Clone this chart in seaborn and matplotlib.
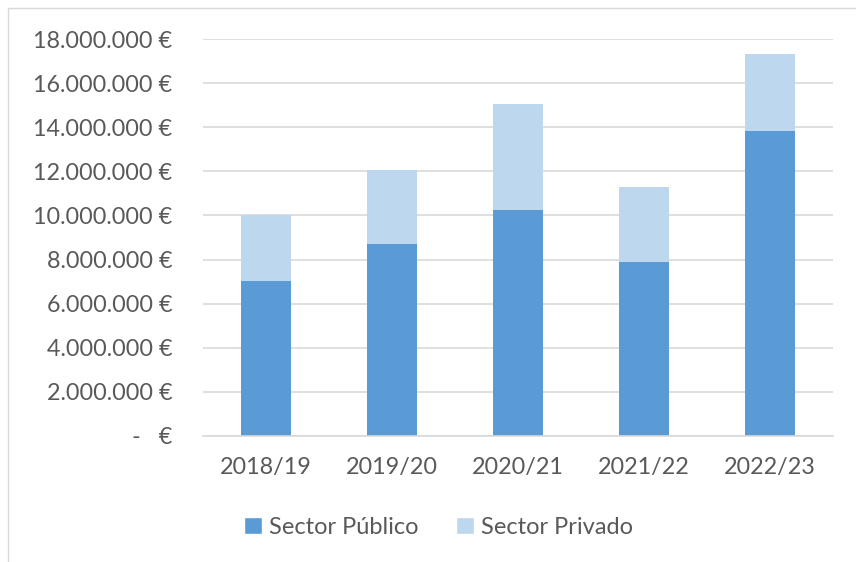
import matplotlib
matplotlib.use("Agg")
import matplotlib.pyplot as plt
from matplotlib.patches import Patch, Rectangle
from matplotlib.ticker import FuncFormatter
import seaborn as sns
import pandas as pd

years = ["2018/19", "2019/20", "2020/21", "2021/22", "2022/23"]
publico = [7020000, 8700000, 10230000, 7870000, 13850000]
privado = [3000000, 3350000, 4810000, 3410000, 3460000]

C_PUB = "#5B9BD5"
C_PRI = "#BDD7EE"
TXT = "#595959"
GRID = "#D9D9D9"

sns.set_theme(style="white")
plt.rcParams["font.family"] = ["Lato", "DejaVu Sans"]

df = pd.DataFrame({"year": years, "publico": publico, "privado": privado})
df["total"] = df["publico"] + df["privado"]

fig = plt.figure(figsize=(8.56, 5.62), dpi=100)
ax = fig.add_axes([203 / 856, 1 - 436 / 562, 630 / 856, 397 / 562])

sns.barplot(data=df, x="year", y="total", color=C_PRI, width=0.4, ax=ax,
            saturation=1, edgecolor="none")
sns.barplot(data=df, x="year", y="publico", color=C_PUB, width=0.4, ax=ax,
            saturation=1, edgecolor="none")

ax.set_ylim(0, 18000000)
ax.set_xlim(-0.5, 4.5)
ax.set_yticks(range(0, 18000001, 2000000))


def fmt(v, pos):
    if v == 0:
        return "-   €"
    return f"{int(v):,}".replace(",", ".") + " €"


ax.yaxis.set_major_formatter(FuncFormatter(fmt))
ax.grid(axis="y", color=GRID, linewidth=1.2)
ax.set_axisbelow(True)
for s in ["top", "right", "left"]:
    ax.spines[s].set_visible(False)
ax.spines["bottom"].set_color(GRID)
ax.spines["bottom"].set_linewidth(1.2)
ax.tick_params(axis="both", length=0, labelsize=16.8, colors=TXT)
ax.tick_params(axis="y", pad=22)
ax.tick_params(axis="x", pad=15)
ax.set_xlabel("")
ax.set_ylabel("")

handles = [Patch(facecolor=C_PUB, label="Sector Público"),
           Patch(facecolor=C_PRI, label="Sector Privado")]
fig.legend(handles=handles, loc="center", bbox_to_anchor=(0.512, 0.062), ncol=2,
           frameon=False, fontsize=17, labelcolor=TXT, handlelength=0.75,
           handleheight=0.75, handletextpad=0.3, columnspacing=1.6)

fig.patches.append(Rectangle((8 / 856, -0.01), 1.0, 1 - 8 / 562 + 0.01,
                             transform=fig.transFigure, fill=False,
                             edgecolor=GRID, linewidth=1.0))

fig.savefig("out.png", dpi=100)
